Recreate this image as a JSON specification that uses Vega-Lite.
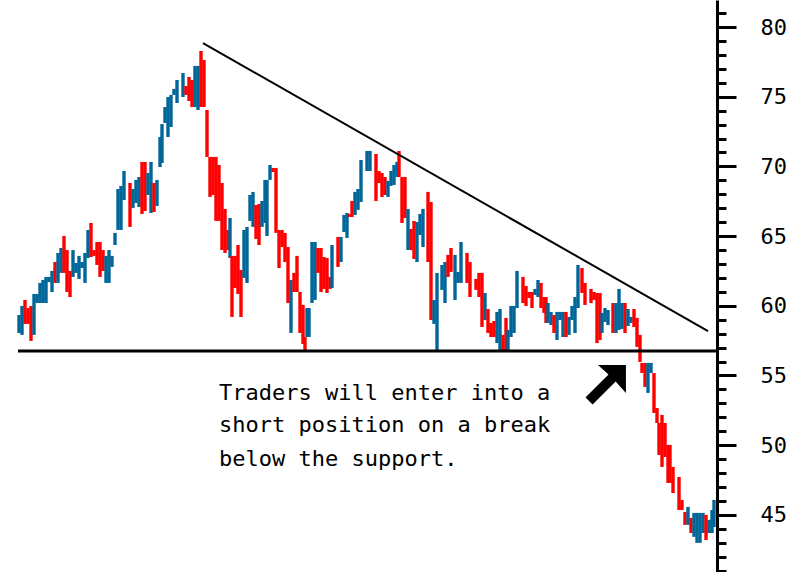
{
  "$schema": "https://vega.github.io/schema/vega-lite/v6.json",
  "width": 717,
  "height": 572,
  "autosize": {"type": "none"},
  "padding": {"left": 0, "top": 0, "right": 84, "bottom": 0},
  "background": "white",
  "config": {"view": {"stroke": null}},
  "datasets": {
    "bars": [
      {"t":19,"high":59.34,"low":58.05,"dir":"up"},
      {"t":22,"high":59.99,"low":57.91,"dir":"up"},
      {"t":25,"high":60.42,"low":58.70,"dir":"down"},
      {"t":28,"high":59.84,"low":58.70,"dir":"down"},
      {"t":31,"high":59.99,"low":57.48,"dir":"down"},
      {"t":34,"high":60.85,"low":57.91,"dir":"up"},
      {"t":37,"high":60.85,"low":60.20,"dir":"up"},
      {"t":40,"high":61.64,"low":60.20,"dir":"up"},
      {"t":43,"high":61.85,"low":60.20,"dir":"up"},
      {"t":46,"high":62.07,"low":60.20,"dir":"up"},
      {"t":49,"high":62.07,"low":61.70,"dir":"up"},
      {"t":52,"high":62.50,"low":60.99,"dir":"up"},
      {"t":55,"high":63.14,"low":61.64,"dir":"down"},
      {"t":58,"high":63.79,"low":61.64,"dir":"up"},
      {"t":61,"high":64.15,"low":62.36,"dir":"up"},
      {"t":64,"high":65.01,"low":62.36,"dir":"down"},
      {"t":67,"high":64.00,"low":60.99,"dir":"down"},
      {"t":70,"high":62.50,"low":60.63,"dir":"down"},
      {"t":73,"high":64.00,"low":62.07,"dir":"up"},
      {"t":76,"high":63.07,"low":62.36,"dir":"up"},
      {"t":79,"high":63.58,"low":61.93,"dir":"up"},
      {"t":82,"high":63.14,"low":62.71,"dir":"up"},
      {"t":85,"high":63.79,"low":61.64,"dir":"up"},
      {"t":88,"high":65.44,"low":63.43,"dir":"up"},
      {"t":91,"high":65.94,"low":63.50,"dir":"down"},
      {"t":94,"high":64.00,"low":63.58,"dir":"down"},
      {"t":97,"high":64.58,"low":62.93,"dir":"down"},
      {"t":100,"high":64.58,"low":62.07,"dir":"down"},
      {"t":103,"high":64.00,"low":62.50,"dir":"down"},
      {"t":106,"high":63.58,"low":61.64,"dir":"up"},
      {"t":109,"high":64.00,"low":61.64,"dir":"up"},
      {"t":112,"high":63.58,"low":62.79,"dir":"up"},
      {"t":115,"high":65.23,"low":64.36,"dir":"up"},
      {"t":118,"high":68.38,"low":65.44,"dir":"up"},
      {"t":121,"high":68.60,"low":65.44,"dir":"up"},
      {"t":124,"high":69.67,"low":67.59,"dir":"up"},
      {"t":130,"high":68.81,"low":65.66,"dir":"down"},
      {"t":133,"high":68.38,"low":67.02,"dir":"up"},
      {"t":136,"high":69.03,"low":67.38,"dir":"up"},
      {"t":139,"high":69.24,"low":67.09,"dir":"up"},
      {"t":142,"high":70.32,"low":66.59,"dir":"down"},
      {"t":145,"high":70.32,"low":66.80,"dir":"down"},
      {"t":148,"high":69.53,"low":67.95,"dir":"up"},
      {"t":151,"high":70.32,"low":66.66,"dir":"up"},
      {"t":154,"high":68.81,"low":66.73,"dir":"down"},
      {"t":157,"high":69.03,"low":67.16,"dir":"up"},
      {"t":160,"high":72.11,"low":69.96,"dir":"up"},
      {"t":162,"high":73.04,"low":70.25,"dir":"up"},
      {"t":165,"high":74.26,"low":73.12,"dir":"up"},
      {"t":168,"high":74.98,"low":72.11,"dir":"up"},
      {"t":171,"high":75.13,"low":72.83,"dir":"up"},
      {"t":174,"high":75.56,"low":75.13,"dir":"up"},
      {"t":177,"high":76.20,"low":74.55,"dir":"up"},
      {"t":183,"high":76.70,"low":74.98,"dir":"up"},
      {"t":186,"high":75.77,"low":75.13,"dir":"down"},
      {"t":189,"high":76.42,"low":74.69,"dir":"down"},
      {"t":192,"high":76.20,"low":74.26,"dir":"down"},
      {"t":195,"high":77.21,"low":74.26,"dir":"up"},
      {"t":198,"high":77.21,"low":74.05,"dir":"up"},
      {"t":201,"high":78.28,"low":74.26,"dir":"down"},
      {"t":204,"high":77.64,"low":74.26,"dir":"down"},
      {"t":207,"high":74.05,"low":70.68,"dir":"down"},
      {"t":210,"high":70.68,"low":67.81,"dir":"down"},
      {"t":213,"high":70.68,"low":67.95,"dir":"down"},
      {"t":216,"high":70.68,"low":66.09,"dir":"down"},
      {"t":219,"high":70.10,"low":66.09,"dir":"down"},
      {"t":222,"high":68.81,"low":64.00,"dir":"down"},
      {"t":225,"high":66.95,"low":63.79,"dir":"down"},
      {"t":228,"high":65.44,"low":64.00,"dir":"down"},
      {"t":230,"high":66.30,"low":63.43,"dir":"up"},
      {"t":232,"high":63.58,"low":59.20,"dir":"down"},
      {"t":235,"high":63.58,"low":61.28,"dir":"down"},
      {"t":238,"high":64.36,"low":60.85,"dir":"down"},
      {"t":241,"high":62.57,"low":59.20,"dir":"down"},
      {"t":244,"high":65.44,"low":62.00,"dir":"up"},
      {"t":247,"high":65.66,"low":61.64,"dir":"up"},
      {"t":250,"high":67.95,"low":66.09,"dir":"up"},
      {"t":253,"high":68.17,"low":65.66,"dir":"up"},
      {"t":256,"high":67.23,"low":64.79,"dir":"down"},
      {"t":259,"high":67.31,"low":64.36,"dir":"down"},
      {"t":262,"high":67.52,"low":65.66,"dir":"up"},
      {"t":265,"high":69.03,"low":65.94,"dir":"up"},
      {"t":267,"high":69.03,"low":65.01,"dir":"up"},
      {"t":270,"high":70.10,"low":69.03,"dir":"up"},
      {"t":273,"high":69.89,"low":69.60,"dir":"down"},
      {"t":276,"high":69.89,"low":65.23,"dir":"down"},
      {"t":279,"high":65.44,"low":62.71,"dir":"down"},
      {"t":282,"high":65.44,"low":64.22,"dir":"down"},
      {"t":285,"high":65.23,"low":63.14,"dir":"down"},
      {"t":288,"high":64.22,"low":60.20,"dir":"down"},
      {"t":291,"high":61.85,"low":58.05,"dir":"up"},
      {"t":294,"high":62.36,"low":60.99,"dir":"down"},
      {"t":297,"high":63.58,"low":60.99,"dir":"down"},
      {"t":300,"high":60.99,"low":58.05,"dir":"down"},
      {"t":303,"high":60.06,"low":57.26,"dir":"down"},
      {"t":305,"high":57.76,"low":56.83,"dir":"down"},
      {"t":307,"high":59.84,"low":57.76,"dir":"up"},
      {"t":309,"high":59.84,"low":57.76,"dir":"up"},
      {"t":312,"high":64.58,"low":60.20,"dir":"up"},
      {"t":315,"high":64.58,"low":60.42,"dir":"up"},
      {"t":318,"high":64.15,"low":62.36,"dir":"down"},
      {"t":321,"high":64.15,"low":60.99,"dir":"down"},
      {"t":324,"high":63.50,"low":61.21,"dir":"down"},
      {"t":327,"high":63.43,"low":60.92,"dir":"down"},
      {"t":330,"high":62.07,"low":61.21,"dir":"down"},
      {"t":332,"high":64.36,"low":61.28,"dir":"up"},
      {"t":338,"high":64.94,"low":62.79,"dir":"down"},
      {"t":341,"high":64.94,"low":63.14,"dir":"up"},
      {"t":344,"high":66.52,"low":65.30,"dir":"up"},
      {"t":347,"high":66.66,"low":64.87,"dir":"up"},
      {"t":349,"high":66.59,"low":66.37,"dir":"down"},
      {"t":352,"high":67.52,"low":66.37,"dir":"down"},
      {"t":355,"high":68.17,"low":66.52,"dir":"up"},
      {"t":358,"high":68.38,"low":66.88,"dir":"up"},
      {"t":361,"high":70.46,"low":67.45,"dir":"up"},
      {"t":367,"high":71.11,"low":69.67,"dir":"up"},
      {"t":370,"high":71.11,"low":69.67,"dir":"up"},
      {"t":376,"high":70.89,"low":67.52,"dir":"down"},
      {"t":379,"high":69.67,"low":68.81,"dir":"down"},
      {"t":382,"high":69.53,"low":67.81,"dir":"down"},
      {"t":385,"high":69.24,"low":67.95,"dir":"down"},
      {"t":388,"high":68.96,"low":67.81,"dir":"up"},
      {"t":391,"high":69.67,"low":68.60,"dir":"up"},
      {"t":394,"high":70.10,"low":68.67,"dir":"up"},
      {"t":397,"high":70.32,"low":69.24,"dir":"up"},
      {"t":399,"high":71.11,"low":69.24,"dir":"down"},
      {"t":402,"high":69.24,"low":65.94,"dir":"down"},
      {"t":405,"high":69.24,"low":66.30,"dir":"down"},
      {"t":408,"high":66.95,"low":64.00,"dir":"up"},
      {"t":411,"high":65.51,"low":64.00,"dir":"down"},
      {"t":414,"high":66.09,"low":63.36,"dir":"down"},
      {"t":417,"high":66.01,"low":63.14,"dir":"up"},
      {"t":420,"high":66.59,"low":65.08,"dir":"up"},
      {"t":423,"high":66.95,"low":64.22,"dir":"up"},
      {"t":428,"high":68.17,"low":63.14,"dir":"down"},
      {"t":431,"high":67.45,"low":58.98,"dir":"down"},
      {"t":434,"high":60.42,"low":58.70,"dir":"up"},
      {"t":437,"high":62.36,"low":56.83,"dir":"up"},
      {"t":442,"high":62.93,"low":61.14,"dir":"up"},
      {"t":445,"high":63.14,"low":60.20,"dir":"up"},
      {"t":448,"high":63.65,"low":62.07,"dir":"down"},
      {"t":451,"high":64.15,"low":62.43,"dir":"down"},
      {"t":455,"high":63.65,"low":60.42,"dir":"up"},
      {"t":458,"high":62.43,"low":61.64,"dir":"up"},
      {"t":461,"high":64.58,"low":61.64,"dir":"up"},
      {"t":467,"high":63.79,"low":61.64,"dir":"down"},
      {"t":470,"high":63.14,"low":60.63,"dir":"down"},
      {"t":476,"high":61.93,"low":61.14,"dir":"down"},
      {"t":479,"high":62.36,"low":60.63,"dir":"down"},
      {"t":482,"high":62.36,"low":58.48,"dir":"down"},
      {"t":485,"high":60.92,"low":58.98,"dir":"up"},
      {"t":488,"high":59.77,"low":58.05,"dir":"down"},
      {"t":491,"high":58.77,"low":57.76,"dir":"down"},
      {"t":494,"high":58.91,"low":57.76,"dir":"down"},
      {"t":497,"high":59.56,"low":57.33,"dir":"up"},
      {"t":500,"high":59.77,"low":56.83,"dir":"up"},
      {"t":503,"high":57.91,"low":56.83,"dir":"down"},
      {"t":506,"high":59.13,"low":56.83,"dir":"down"},
      {"t":508,"high":58.27,"low":56.83,"dir":"up"},
      {"t":511,"high":59.99,"low":57.76,"dir":"up"},
      {"t":514,"high":59.99,"low":58.05,"dir":"up"},
      {"t":517,"high":62.50,"low":59.84,"dir":"up"},
      {"t":523,"high":62.07,"low":60.20,"dir":"down"},
      {"t":526,"high":61.42,"low":59.99,"dir":"down"},
      {"t":529,"high":60.99,"low":60.56,"dir":"down"},
      {"t":532,"high":60.99,"low":59.84,"dir":"down"},
      {"t":535,"high":61.21,"low":60.78,"dir":"up"},
      {"t":538,"high":61.85,"low":60.63,"dir":"up"},
      {"t":541,"high":61.64,"low":59.84,"dir":"down"},
      {"t":544,"high":60.63,"low":59.49,"dir":"down"},
      {"t":546,"high":60.63,"low":58.77,"dir":"down"},
      {"t":548,"high":60.20,"low":58.77,"dir":"up"},
      {"t":551,"high":59.56,"low":58.62,"dir":"up"},
      {"t":554,"high":59.34,"low":58.05,"dir":"down"},
      {"t":557,"high":59.56,"low":57.55,"dir":"up"},
      {"t":560,"high":59.56,"low":58.98,"dir":"up"},
      {"t":563,"high":59.56,"low":57.76,"dir":"up"},
      {"t":566,"high":59.56,"low":57.76,"dir":"down"},
      {"t":569,"high":59.20,"low":57.91,"dir":"up"},
      {"t":572,"high":59.99,"low":58.98,"dir":"up"},
      {"t":575,"high":60.63,"low":58.05,"dir":"up"},
      {"t":578,"high":62.93,"low":59.84,"dir":"up"},
      {"t":582,"high":62.71,"low":60.92,"dir":"down"},
      {"t":585,"high":61.64,"low":60.06,"dir":"down"},
      {"t":591,"high":61.21,"low":60.20,"dir":"down"},
      {"t":594,"high":60.99,"low":60.42,"dir":"down"},
      {"t":597,"high":60.92,"low":57.33,"dir":"down"},
      {"t":600,"high":60.92,"low":57.55,"dir":"down"},
      {"t":602,"high":59.49,"low":58.05,"dir":"up"},
      {"t":605,"high":59.84,"low":58.84,"dir":"up"},
      {"t":608,"high":59.70,"low":58.62,"dir":"up"},
      {"t":613,"high":60.20,"low":58.05,"dir":"down"},
      {"t":616,"high":60.20,"low":58.05,"dir":"up"},
      {"t":619,"high":61.21,"low":58.27,"dir":"up"},
      {"t":622,"high":60.20,"low":58.34,"dir":"up"},
      {"t":625,"high":60.20,"low":58.05,"dir":"down"},
      {"t":628,"high":59.77,"low":58.55,"dir":"up"},
      {"t":631,"high":59.20,"low":58.77,"dir":"up"},
      {"t":634,"high":59.77,"low":58.48,"dir":"down"},
      {"t":637,"high":59.13,"low":57.05,"dir":"down"},
      {"t":640,"high":57.91,"low":55.97,"dir":"down"},
      {"t":642,"high":55.90,"low":55.18,"dir":"down"},
      {"t":645,"high":55.90,"low":54.18,"dir":"down"},
      {"t":648,"high":55.90,"low":53.75,"dir":"up"},
      {"t":651,"high":55.90,"low":55.18,"dir":"up"},
      {"t":654,"high":55.18,"low":52.31,"dir":"down"},
      {"t":657,"high":52.67,"low":51.59,"dir":"down"},
      {"t":659,"high":51.59,"low":49.30,"dir":"down"},
      {"t":662,"high":52.17,"low":48.44,"dir":"down"},
      {"t":665,"high":51.59,"low":49.15,"dir":"down"},
      {"t":668,"high":50.02,"low":47.29,"dir":"down"},
      {"t":670,"high":50.02,"low":47.29,"dir":"down"},
      {"t":673,"high":48.44,"low":46.57,"dir":"down"},
      {"t":679,"high":47.72,"low":45.35,"dir":"down"},
      {"t":682,"high":46.07,"low":45.35,"dir":"down"},
      {"t":685,"high":45.21,"low":44.28,"dir":"down"},
      {"t":688,"high":45.57,"low":44.28,"dir":"up"},
      {"t":691,"high":44.78,"low":43.70,"dir":"down"},
      {"t":694,"high":45.14,"low":43.42,"dir":"up"},
      {"t":697,"high":45.14,"low":42.99,"dir":"up"},
      {"t":700,"high":45.14,"low":42.99,"dir":"up"},
      {"t":703,"high":45.14,"low":43.70,"dir":"up"},
      {"t":706,"high":45.00,"low":43.20,"dir":"down"},
      {"t":709,"high":44.64,"low":43.70,"dir":"up"},
      {"t":712,"high":45.35,"low":43.70,"dir":"up"},
      {"t":714,"high":46.07,"low":44.13,"dir":"up"}
    ],
    "trend": [
      {"t": 203, "price": 78.85},
      {"t": 708, "price": 58.19}
    ],
    "support": [
      {"t": 18, "t2": 717, "price": 56.76}
    ],
    "notes": [
      {"t": 219, "price": 53.24, "label": "Traders will enter into a"},
      {"t": 219, "price": 50.95, "label": "short position on a break"},
      {"t": 219, "price": 48.51, "label": "below the support."}
    ],
    "arrow": [
      {"t": 607, "price": 54.46}
    ]
  },
  "layer": [
    {
      "data": {"name": "bars"},
      "mark": {"type": "rule", "strokeWidth": 3.4, "strokeCap": "butt"},
      "encoding": {
        "x": {"field": "t", "type": "quantitative", "scale": {"domain": [0, 717], "nice": false, "zero": false}, "axis": null},
        "y": {
          "field": "low", "type": "quantitative",
          "scale": {"domain": [40.9, 81.94], "nice": false, "zero": false},
          "axis": {
            "orient": "right",
            "title": null,
            "grid": false,
            "tickCount": 100,
            "format": "d",
            "values": [41,42,43,44,45,46,47,48,49,50,51,52,53,54,55,56,57,58,59,60,61,62,63,64,65,66,67,68,69,70,71,72,73,74,75,76,77,78,79,80,81],
            "tickSize": {"condition": {"test": "datum.value % 5 === 0", "value": 19}, "value": 9},
            "tickWidth": 3,
            "tickColor": "black",
            "domainColor": "black",
            "domainWidth": 3,
            "labelExpr": "datum.value % 5 === 0 ? datum.label : ''",
            "labelFont": "DejaVu Sans Mono",
            "labelFontSize": 22,
            "labelColor": "black",
            "labelPadding": 24,
            "labelOverlap": false,
            "labelBound": false,
            "labelFlush": false
          }
        },
        "y2": {"field": "high"},
        "color": {"field": "dir", "type": "nominal", "scale": {"domain": ["up", "down"], "range": ["#006699", "#FF0000"]}, "legend": null}
      }
    },
    {
      "data": {"name": "support"},
      "mark": {"type": "rule", "strokeWidth": 3, "color": "black"},
      "encoding": {
        "x": {"field": "t", "type": "quantitative"},
        "x2": {"field": "t2"},
        "y": {"field": "price", "type": "quantitative"}
      }
    },
    {
      "data": {"name": "trend"},
      "mark": {"type": "line", "strokeWidth": 2, "color": "black"},
      "encoding": {
        "x": {"field": "t", "type": "quantitative"},
        "y": {"field": "price", "type": "quantitative"}
      }
    },
    {
      "data": {"name": "notes"},
      "mark": {"type": "text", "align": "left", "baseline": "alphabetic", "font": "DejaVu Sans Mono", "fontSize": 22, "color": "black"},
      "encoding": {
        "x": {"field": "t", "type": "quantitative"},
        "y": {"field": "price", "type": "quantitative"},
        "text": {"field": "label"}
      }
    },
    {
      "data": {"name": "arrow"},
      "mark": {"type": "point", "filled": true, "color": "black", "opacity": 1, "size": 1849, "shape": "M-1,0.67L0.07,-0.4L-0.42,-0.84L0.88,-0.84L0.88,0.47L0.4,-0.07L-0.67,1Z"},
      "encoding": {
        "x": {"field": "t", "type": "quantitative"},
        "y": {"field": "price", "type": "quantitative"}
      }
    }
  ]
}
